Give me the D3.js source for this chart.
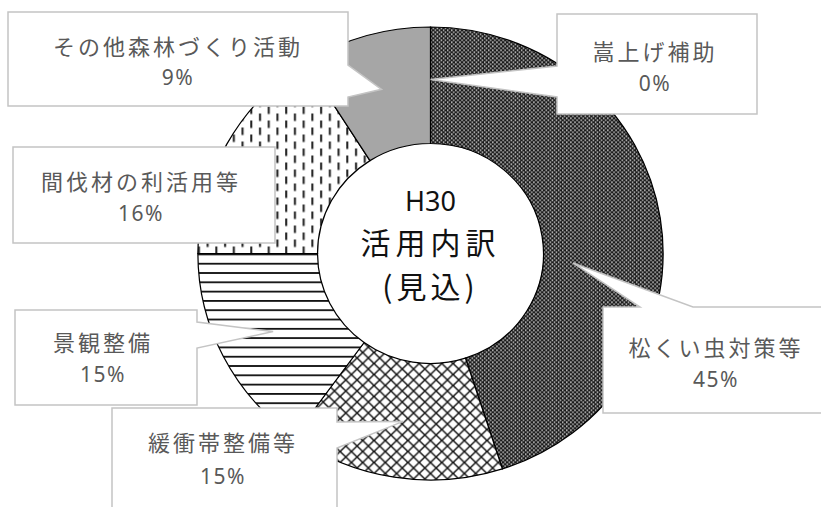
<!DOCTYPE html>
<html><head><meta charset="utf-8">
<script src="https://cdn.jsdelivr.net/npm/d3@7"></script>
<style>
html,body{margin:0;padding:0;background:#fff;}
svg{display:block;}
</style></head>
<body>
<svg id="chart" width="821" height="507"></svg>
<script>
// ---- data ----
const categories = ["嵩上げ補助","松くい虫対策等","緩衝帯整備等","景観整備","間伐材の利活用等","その他森林づくり活動"];
const values = [0, 45, 15, 15, 16, 9];
const centerLines = ["H30","活用内訳","(見込)"];

// ---- layout (positions / styles) ----
const W = 821, H = 507;
const cx = 430.5, cy = 253.5;
const rOuter = 226.5, rInner = 110, sx = 1.027;
const labelLayout = [
  {box:[557,14,200,100], side:"left",  base:[66,97],  tipR:174, tipDA:0,     tx:655, ty1:50,  ty2:83},
  {box:[603,307,240,106], side:"top",  base:[640,693], tipR:139, tipDA:0.225, tx:716, ty1:346, ty2:379},
  {box:[112,408,225,110], side:"right", base:[422,448], tipR:170, tipDA:0,    tx:223, ty1:441, ty2:476},
  {box:[15,310,182,95],  side:"right", base:[322,348], tipR:172, tipDA:0,     tx:103, ty1:341, ty2:374},
  {box:[13,147,262,96],  side:null,    base:null,      tipR:0,   tipDA:0,     tx:141, ty1:180, ty2:213},
  {box:[8,12,340,94],    side:"right", base:[65,97],   tipR:171, tipDA:0,     tx:178, ty1:45,  ty2:77}
];
const fills = ["url(#pDense)","url(#pDense)","url(#pCross)","url(#pHoriz)","url(#pDash)","#a6a6a6"];

const svg = d3.select("#chart");
const defs = svg.append("defs");

// dense dark pattern
const pD = defs.append("pattern").attr("id","pDense").attr("patternUnits","userSpaceOnUse").attr("width",4).attr("height",4);
pD.append("rect").attr("width",4).attr("height",4).attr("fill","#1a1a1a");
pD.append("rect").attr("x",0).attr("y",0).attr("width",1.4).attr("height",1.4).attr("fill","#f2f2f2");
pD.append("rect").attr("x",2).attr("y",2).attr("width",1.4).attr("height",1.4).attr("fill","#f2f2f2");

// diagonal cross hatch
const pC = defs.append("pattern").attr("id","pCross").attr("patternUnits","userSpaceOnUse").attr("width",11).attr("height",11);
pC.append("rect").attr("width",11).attr("height",11).attr("fill","#fff");
pC.append("path").attr("d","M-1,-1L12,12M12,-1L-1,12").attr("stroke","#111").attr("stroke-width",1.4);

// horizontal lines
const pH = defs.append("pattern").attr("id","pHoriz").attr("patternUnits","userSpaceOnUse").attr("width",10).attr("height",9.3);
pH.append("rect").attr("width",10).attr("height",9.3).attr("fill","#fff");
pH.append("rect").attr("y",0).attr("width",10).attr("height",1.8).attr("fill","#111");

// vertical dashes
const pV = defs.append("pattern").attr("id","pDash").attr("patternUnits","userSpaceOnUse").attr("width",17).attr("height",14);
pV.append("rect").attr("width",17).attr("height",14).attr("fill","#fff");
pV.append("rect").attr("x",3).attr("y",0).attr("width",2).attr("height",7.5).attr("fill","#222");
pV.append("rect").attr("x",11.5).attr("y",7).attr("width",2).attr("height",7).attr("fill","#222");
pV.append("rect").attr("x",11.5).attr("y",0).attr("width",2).attr("height",0.5).attr("fill","#222");

// ---- donut ----
const pie = d3.pie().sort(null).value(d => d).startAngle(0).endAngle(2*Math.PI);
const arcs = pie(values);
const arcGen = d3.arc().innerRadius(rInner).outerRadius(rOuter);

const g = svg.append("g").attr("transform",`translate(${cx},${cy}) scale(${sx},1)`);
g.selectAll("path.slice").data(arcs).join("path")
  .attr("class","slice")
  .attr("d", arcGen)
  .attr("fill",(d,i)=>fills[i])
  .attr("stroke","#000")
  .attr("stroke-width",1.2);

// ---- callouts ----
const lg = svg.append("g");
arcs.forEach((a,i)=>{
  const L = labelLayout[i];
  const [x,y,w,h] = L.box;
  const mid = (a.startAngle + a.endAngle)/2 + L.tipDA;
  const tx = cx + sx*L.tipR*Math.sin(mid);
  const ty = cy - L.tipR*Math.cos(mid);
  let d;
  if (L.side === "right") {
    d = `M${x},${y}H${x+w}V${L.base[0]}L${tx},${ty}L${x+w},${L.base[1]}V${y+h}H${x}Z`;
  } else if (L.side === "left") {
    d = `M${x},${y}H${x+w}V${y+h}H${x}V${L.base[1]}L${tx},${ty}L${x},${L.base[0]}Z`;
  } else if (L.side === "top") {
    d = `M${x},${y}H${L.base[0]}L${tx},${ty}L${L.base[1]},${y}H${x+w}V${y+h}H${x}Z`;
  } else {
    d = `M${x},${y}H${x+w}V${y+h}H${x}Z`;
  }
  lg.append("path").attr("d",d).attr("fill","#fff").attr("stroke","#c4c4c4").attr("stroke-width",1.5);
  lg.append("text").attr("x",L.tx).attr("y",L.ty1)
    .attr("text-anchor","middle").attr("dominant-baseline","central")
    .attr("font-family","'Noto Sans CJK JP','Noto Sans',sans-serif")
    .attr("font-size",22).attr("letter-spacing",3).attr("fill","#595959")
    .text(categories[i]);
  lg.append("text").attr("x",L.tx).attr("y",L.ty2)
    .attr("text-anchor","middle").attr("dominant-baseline","central")
    .attr("font-family","'Noto Sans','Noto Sans CJK JP',sans-serif")
    .attr("font-size",21).attr("letter-spacing",1.5).attr("fill","#595959")
    .text(values[i] + "%");
});

// ---- center text ----
const ct = svg.append("g").attr("font-family","'Noto Sans CJK JP','Noto Sans',sans-serif").attr("fill","#111").attr("text-anchor","middle");
ct.append("text").attr("x",cx).attr("y",200).attr("dominant-baseline","central").attr("font-size",27).attr("font-family","'Noto Sans',sans-serif").text(centerLines[0]);
ct.append("text").attr("x",cx).attr("y",241).attr("dominant-baseline","central").attr("font-size",30).attr("letter-spacing",5).text(centerLines[1]);
ct.append("text").attr("x",cx).attr("y",285).attr("dominant-baseline","central").attr("font-size",30).attr("letter-spacing",4).text(centerLines[2]);
</script>
</body></html>
